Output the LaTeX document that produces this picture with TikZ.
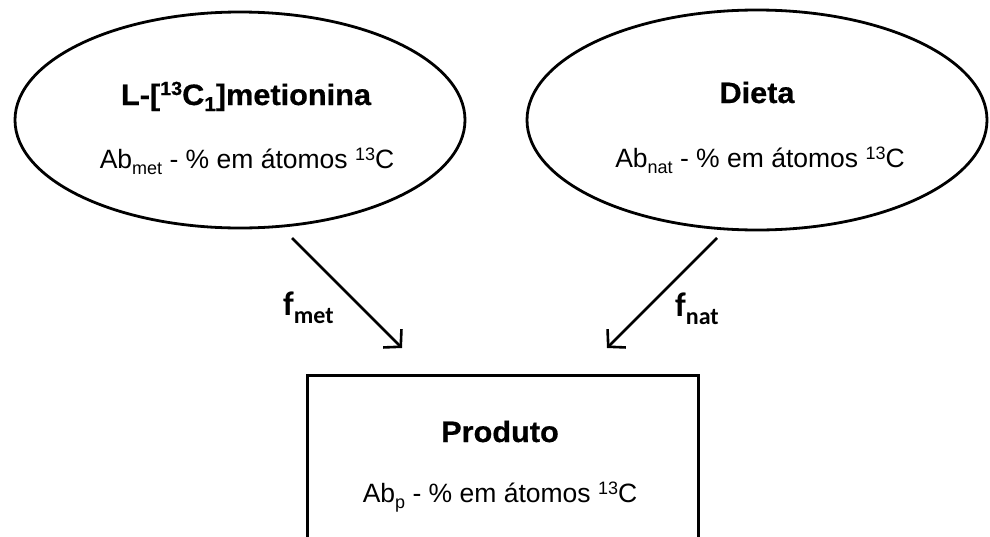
\documentclass[tikz,border=0pt]{standalone}
\usepackage{fontspec}
\setmainfont{Liberation Sans}
\newfontfamily\titlefont{Liberation Sans}[FakeStretch=1.04,FakeBold=0.6]
\newfontfamily\flabelfont{Carlito}
\usetikzlibrary{shapes.geometric,arrows.meta}
\newcommand{\mysub}[1]{\raisebox{-6pt}{\fontsize{18}{18}\selectfont #1}}
\newcommand{\mysup}[1]{\raisebox{8pt}{\fontsize{18}{18}\selectfont #1}}
\newcommand{\tsub}[1]{\raisebox{-6pt}{\fontsize{20}{20}\selectfont #1}}
\newcommand{\tsup}[1]{\raisebox{10pt}{\fontsize{19}{19}\selectfont #1}}
\newcommand{\fsub}[1]{\raisebox{-8pt}{\fontsize{24}{24}\selectfont #1}}
\begin{document}
\begin{tikzpicture}[x=1pt,y=-1pt,
  oval/.style={draw, ellipse, line width=2.8pt, inner sep=0pt, outer sep=0pt},
  box/.style={draw, rectangle, line width=3pt, inner sep=0pt, outer sep=0pt},
  ttl/.style={font=\titlefont\bfseries\fontsize{29.5}{34}\selectfont, inner sep=0pt, anchor=base},
  txt/.style={font=\fontsize{26.5}{31}\selectfont, inner sep=0pt, anchor=base},
  flab/.style={font=\flabelfont\bfseries\fontsize{34}{38}\selectfont, inner sep=0pt, anchor=base west},
  arr/.style={line width=2.6pt, -{Straight Barb[length=12pt,width=26pt]}}]
\useasboundingbox (0,0) rectangle (990,536);
\fill[white] (0,0) rectangle (990,536);
\clip (0,0) rectangle (990,536);

% source ellipses
\node[oval, minimum width=450pt, minimum height=216pt] (met) at (240,120) {};
\node[oval, minimum width=460pt, minimum height=220pt] (diet) at (757,120) {};

% product box (bottom runs past the picture edge)
\node[box, minimum width=391pt, minimum height=220pt, anchor=north west] (prod) at (307,375) {};

% texts
\node[ttl] (metT) at (246,105) {L-[\tsup{13}C\tsub{1}]metionina};
\node[txt] (metA) at (247,168) {Ab\mysub{met} - \% em átomos \mysup{13}C};
\node[ttl] (dietT) at (757,103) {Dieta};
\node[txt] (dietA) at (760,167) {Ab\mysub{nat} - \% em átomos \mysup{13}C};
\node[ttl] (prodT) at (500,442) {Produto};
\node[txt] (prodA) at (500,502) {Ab\mysub{p} - \% em átomos \mysup{13}C};

% connectors
\coordinate (m1) at (292,238);
\coordinate (m2) at (402,348);
\coordinate (n1) at (717,238);
\coordinate (n2) at (607,348);
\draw[arr] (m1) -- (m2);
\draw[arr] (n1) -- (n2);

% flux labels
\node[flab] (fmet) at (283,315) {f\fsub{met}};
\node[flab] (fnat) at (675,316) {f\fsub{nat}};
\end{tikzpicture}
\end{document}
